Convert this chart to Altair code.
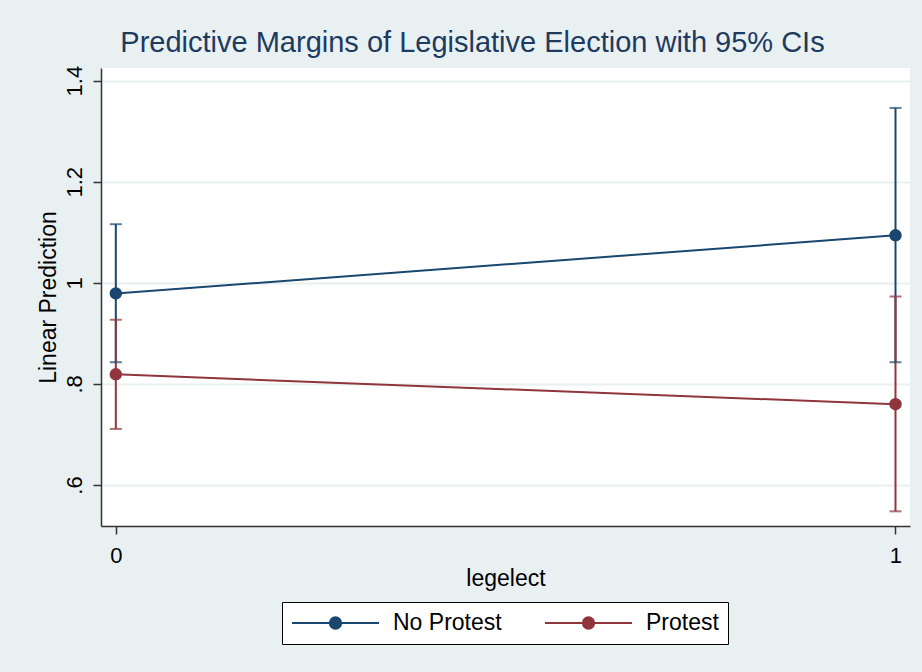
import altair as alt
import pandas as pd

# ---- data ----
legelect = [0, 1]
no_protest_margin = [0.979, 1.094]
no_protest_lo = [0.843, 0.843]
no_protest_hi = [1.116, 1.346]
protest_margin = [0.819, 0.760]
protest_lo = [0.711, 0.548]
protest_hi = [0.927, 0.973]
groups = ["No Protest", "Protest"]
colors = ["#1A476F", "#90353B"]
y_ticks = [0.6, 0.8, 1.0, 1.2, 1.4]
x_ticks = [0, 1]

rows = []
for g, m, lo, hi in [
    (groups[0], no_protest_margin, no_protest_lo, no_protest_hi),
    (groups[1], protest_margin, protest_lo, protest_hi),
]:
    for i, x in enumerate(legelect):
        rows.append({"legelect": x, "group": g, "margin": m[i], "lo": lo[i], "hi": hi[i]})
df = pd.DataFrame(rows)

FONT = "Liberation Sans"
BG = "#E9F0F2"

xscale = alt.Scale(domain=[-0.019, 1.0186], nice=False, zero=False)
yscale = alt.Scale(domain=[0.519, 1.425], nice=False, zero=False)
cscale = alt.Scale(domain=groups, range=colors)

x_enc = alt.X(
    "legelect:Q",
    scale=xscale,
    axis=alt.Axis(
        values=x_ticks, format="d", title="legelect", grid=False,
        tickSize=8, labelPadding=11, labelFontSize=22, titleFontSize=23,
        titlePadding=1, titleFontWeight="normal",
    ),
)
y_axis = alt.Axis(
    values=y_ticks, title="Linear Prediction", grid=True,
    labelExpr="format(datum.value, '.1f') == '1.0' ? '1' : (datum.value < 1 ? substring(format(datum.value, '.1f'), 1) : format(datum.value, '.1f'))",
    labelAngle=270, labelAlign="center", labelBaseline="alphabetic",
    tickSize=8, labelPadding=12, labelFontSize=22, titleFontSize=23,
    titlePadding=3, titleFontWeight="normal",
)

legend = alt.Legend(
    title=None, orient="none", legendX=181, legendY=534,
    direction="horizontal",
    symbolType="M-1,0L1,0M0.13,0A0.13,0.13,0,1,1,-0.13,0A0.13,0.13,0,1,1,0.13,0Z",
    symbolSize=7569, symbolStrokeWidth=2, clipHeight=24,
    labelFontSize=23, labelColor="black", labelOffset=13,
    columnPadding=42, padding=9,
    strokeColor="black", fillColor="white",
)

base = alt.Chart(df)

bars = base.mark_rule(strokeWidth=2).encode(
    x=x_enc,
    y=alt.Y("lo:Q", scale=yscale, axis=y_axis),
    y2="hi:Q",
    color=alt.Color("group:N", scale=cscale, legend=None),
)
caps_lo = base.mark_tick(orient="horizontal", size=12, thickness=2).encode(
    x="legelect:Q",
    y=alt.Y("lo:Q", scale=yscale),
    color=alt.Color("group:N", scale=cscale, legend=None),
)
caps_hi = base.mark_tick(orient="horizontal", size=12, thickness=2).encode(
    x="legelect:Q",
    y=alt.Y("hi:Q", scale=yscale),
    color=alt.Color("group:N", scale=cscale, legend=None),
)
lines = base.mark_line(strokeWidth=2).encode(
    x="legelect:Q",
    y=alt.Y("margin:Q", scale=yscale),
    color=alt.Color("group:N", scale=cscale, legend=None),
)
points = base.mark_point(filled=True, size=120, opacity=1, strokeWidth=1.5).encode(
    x="legelect:Q",
    y=alt.Y("margin:Q", scale=yscale),
    fill=alt.Fill("group:N", scale=cscale, legend=legend),
    stroke=alt.Stroke("group:N", scale=cscale, legend=legend),
)

chart = (
    alt.layer(bars, caps_lo, caps_hi, lines, points)
    .resolve_legend(color="independent")
    .properties(
        width=809, height=458,
        padding={"left": 101, "top": 68, "right": 12, "bottom": 146},
        autosize=alt.AutoSizeParams(type="none"),
        background=BG,
        title=alt.TitleParams(
            "Predictive Margins of Legislative Election with 95% CIs",
            fontSize=29, font=FONT, fontWeight="normal", color="#1E3A5F",
            anchor="middle", dx=-33, offset=7,
        ),
    )
    .configure_view(fill="white", stroke=None)
    .configure_axis(
        labelFont=FONT, titleFont=FONT, labelColor="black", titleColor="black",
        domainColor="#333333", tickColor="#333333", domainWidth=1.5, tickWidth=1.5,
        gridColor=BG, gridWidth=2,
    )
    .configure_legend(labelFont=FONT)
)

chart.save("out.html", embed_options={"renderer": "svg", "actions": False})
